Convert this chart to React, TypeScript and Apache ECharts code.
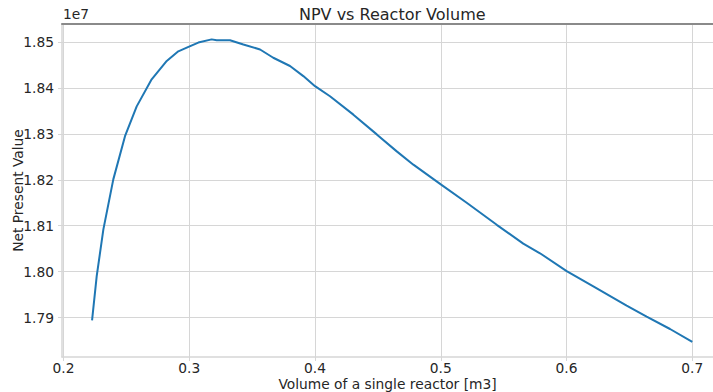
import React, { useEffect, useRef } from "react";
import * as echarts from "echarts";

const volumes = [
  0.2227, 0.2264, 0.2317, 0.2396, 0.2489, 0.2582, 0.2701, 0.2821, 0.2913, 0.298,
  0.3072, 0.3178, 0.3218, 0.3324, 0.343, 0.3563, 0.3668, 0.3801, 0.3907, 0.4,
  0.4119, 0.4305, 0.4491, 0.465, 0.4782, 0.5, 0.5206, 0.5445, 0.5656, 0.5789,
  0.6001, 0.6213, 0.6478, 0.6637, 0.6823, 0.7,
];
const npv = [
  17894000, 17990000, 18092000, 18201000, 18295000, 18360000, 18419000, 18459000, 18480000, 18488000,
  18499000, 18506000, 18504000, 18504000, 18495000, 18484000, 18466000, 18448000, 18426000, 18404000,
  18382000, 18342000, 18299000, 18262000, 18233000, 18190000, 18150000, 18102000, 18061000, 18040000,
  18001000, 17968000, 17926000, 17902000, 17875000, 17847000,
];
const xTicks = [0.2, 0.3, 0.4, 0.5, 0.6, 0.7];
const yTicks = [17900000, 18000000, 18100000, 18200000, 18300000, 18400000, 18500000];

const FONT = "DejaVu Sans";
const TEXT = "#262626";
const GRID = "#d6d6d6";
const FS = 13.8;

export default function App() {
  const ref = useRef<HTMLDivElement>(null);
  useEffect(() => {
    if (!ref.current) return;
    const chart = echarts.init(ref.current, undefined, { renderer: "svg" });
    const data = volumes.map((v, i) => [v, npv[i]]);
    chart.setOption({
      animation: false,
      backgroundColor: "#ffffff",
      title: {
        text: "NPV vs Reactor Volume",
        left: 294,
        top: 1,
        textStyle: { fontFamily: FONT, fontSize: 16, fontWeight: "normal", color: TEXT },
      },
      graphic: [
        {
          type: "text",
          left: 63,
          top: 7,
          style: { text: "1e7", fontFamily: FONT, fontSize: FS, fill: TEXT },
        },
      ],
      grid: {
        left: 62,
        top: 24,
        right: 0,
        bottom: 35,
        containLabel: false,
        outerBoundsMode: "none",
      },
      xAxis: [
        {
          type: "value",
          min: 0.1988,
          max: 0.71647,
          name: "Volume of a single reactor [m3]",
          nameLocation: "middle",
          nameGap: 20,
          nameMoveOverlap: false,
          nameTextStyle: { fontFamily: FONT, fontSize: FS, color: TEXT, lineHeight: 14 },
          axisLine: { show: true, lineStyle: { color: GRID, width: 1.5 } },
          axisTick: { show: true, length: 4, lineStyle: { color: GRID }, customValues: xTicks },
          axisLabel: {
            fontFamily: FONT,
            fontSize: FS,
            color: TEXT,
            margin: 4,
            lineHeight: 14,
            customValues: xTicks,
            formatter: (v: number) => v.toFixed(1),
          },
          splitLine: { show: true, lineStyle: { color: GRID, width: 1 } },
        },
        {
          type: "value",
          position: "top",
          min: 0.1988,
          max: 0.71647,
          axisLine: { show: true, lineStyle: { color: "#8a8a8a", width: 2 } },
          axisTick: { show: false },
          axisLabel: { show: false },
          splitLine: { show: false },
        },
      ],
      yAxis: {
        type: "value",
        min: 17814000,
        max: 18539500,
        name: "Net Present Value",
        nameLocation: "middle",
        nameGap: 37,
        nameMoveOverlap: false,
        nameTextStyle: { fontFamily: FONT, fontSize: FS, color: TEXT },
        axisLine: { show: true, lineStyle: { color: GRID, width: 1.5 } },
        axisTick: { show: true, length: 4, lineStyle: { color: GRID }, customValues: yTicks },
        axisLabel: {
          fontFamily: FONT,
          fontSize: FS,
          color: TEXT,
          margin: 8,
          customValues: yTicks,
          formatter: (v: number) => (v / 1e7).toFixed(2),
        },
        splitLine: { show: true, lineStyle: { color: GRID, width: 1 } },
      },
      series: [
        {
          type: "line",
          xAxisIndex: 0,
          data,
          showSymbol: false,
          symbol: "none",
          smooth: false,
          lineStyle: { color: "#1f77b4", width: 2 },
        },
      ],
    });
    return () => chart.dispose();
  }, []);
  return (
    <div
      ref={ref}
      style={{ position: "fixed", left: 0, top: 0, width: 713, height: 392 }}
    />
  );
}
